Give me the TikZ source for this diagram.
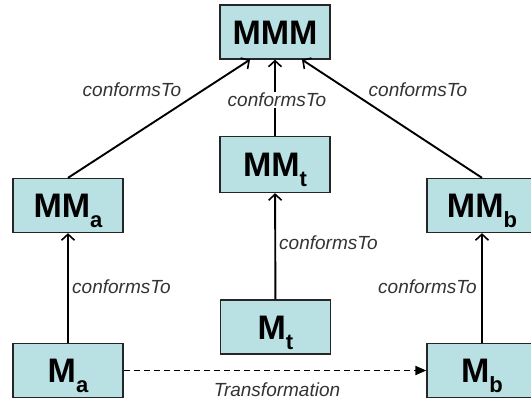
\documentclass[tikz,border=0pt]{standalone}
\usepackage{fontspec}
\setmainfont{Liberation Sans}
\usetikzlibrary{arrows.meta,calc}
\definecolor{boxfill}{RGB}{185,224,227}
\newcommand\mysub[1]{\raisebox{-10pt}{\fontsize{22}{22}\selectfont #1}}
\begin{document}
\begin{tikzpicture}[x=1pt,y=-1pt,
 model/.style={draw=black!85, line width=1.3pt, fill=boxfill, minimum width=110pt, minimum height=54pt, inner sep=0pt, font=\fontsize{34}{34}\selectfont\bfseries, text height=24pt, text depth=0pt},
 conf/.style={line width=1.9pt, -{Straight Barb[length=6pt,width=13pt,line width=1.6pt]}},
 trans/.style={line width=1.8pt, dash pattern=on 6pt off 4pt, -{Triangle[length=11pt,width=9pt]}},
 lbl/.style={font=\fontsize{19}{19}\selectfont\itshape, text=black!80, inner sep=1pt},
]
\useasboundingbox (0,0) rectangle (531,400);
\node[model] (MMM) at (275,32) {MMM};
\node[model, minimum height=56pt] (MMt) at (275,164.5) {MM\mysub{t}};
\node[model] (Mt) at (275.5,327) {M\mysub{t}};
\node[model] (MMa) at (68,205.5) {MM\mysub{a}};
\node[model] (Ma) at (68,370.5) {M\mysub{a}};
\node[model] (MMb) at (482,205.5) {MM\mysub{b}};
\node[model] (Mb) at (482,370.5) {M\mysub{b}};
\coordinate (mmmL) at ($(MMM.south)+(-25,0)$);
\coordinate (mmmR) at ($(MMM.south)+(27,0)$);
\draw[conf] (MMa.north) -- (mmmL);
\draw[conf] (MMb.north) -- (mmmR);
\draw[conf] (MMt) -- (MMM);
\draw[conf] (Mt) -- (MMt);
\draw[conf] (Ma) -- (MMa);
\draw[conf] (Mb) -- (MMb);
\draw[trans] (Ma) -- (Mb);
\node[lbl] (l1) at (132,90) {conformsTo};
\node[lbl] (l2) at (418,90) {conformsTo};
\node[lbl, fill=white] (l3) at (277,100) {conformsTo};
\node[lbl, anchor=west] (l4) at (278,243) {conformsTo};
\node[lbl, anchor=west] (l5) at (71,287) {conformsTo};
\node[lbl, anchor=east] (l6) at (478,287) {conformsTo};
\node[lbl] (l7) at (277,390) {Transformation};
\end{tikzpicture}
\end{document}
